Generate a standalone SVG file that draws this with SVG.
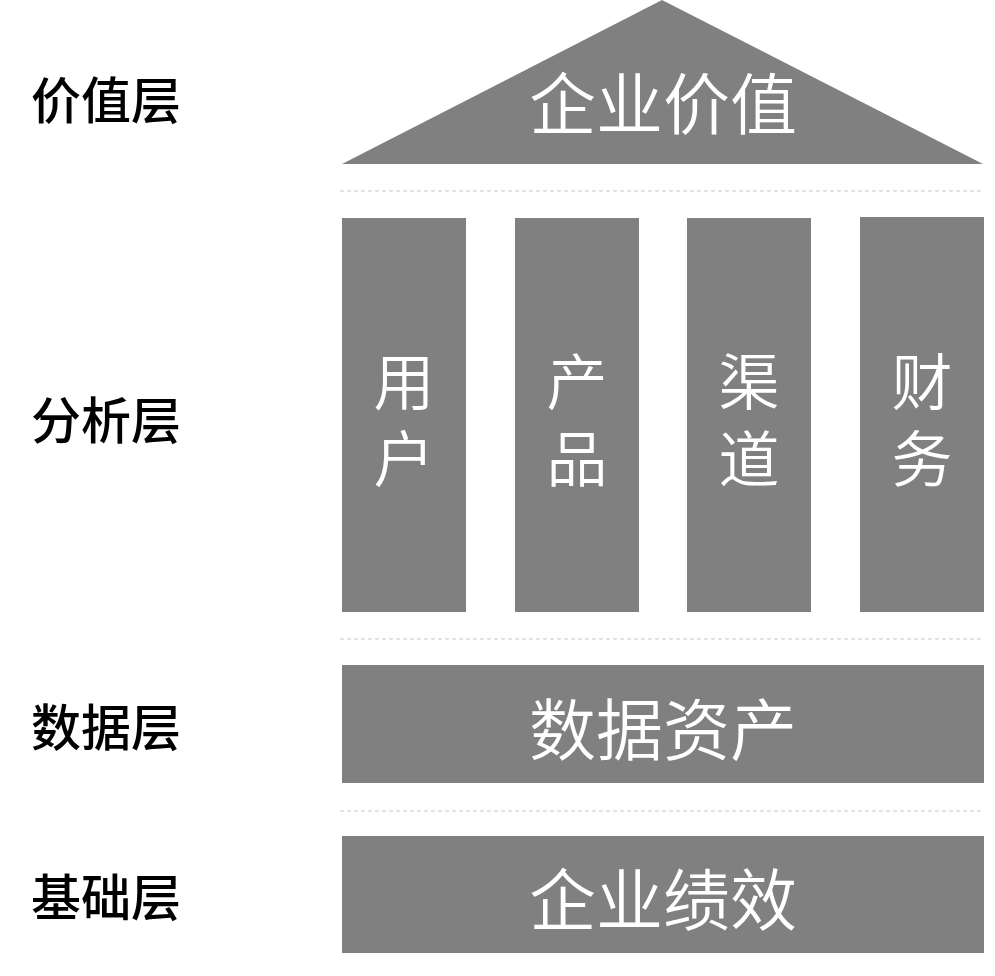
<svg xmlns="http://www.w3.org/2000/svg" width="995" height="976" viewBox="0 0 995 976">
<style>
.shape{fill:#808080}
.sep{stroke:#c8c8c8;stroke-width:1.2;stroke-dasharray:4 3;fill:none}
.lbl{font-family:"Noto Sans CJK SC","Noto Sans",sans-serif;font-size:50px;fill:#000;text-anchor:middle;font-weight:500}
.big{font-family:"Noto Sans CJK SC","Noto Sans",sans-serif;font-size:67px;fill:#fff;text-anchor:middle;font-weight:350}
.col{font-family:"Noto Sans CJK SC","Noto Sans",sans-serif;font-size:61px;fill:#fff;font-weight:350;writing-mode:vertical-rl;letter-spacing:16px}
</style>
<rect width="995" height="976" fill="#fff"/>
<g id="separators">
<line class="sep" x1="340" y1="191" x2="984" y2="191"/>
<line class="sep" x1="340" y1="639" x2="984" y2="639"/>
<line class="sep" x1="340" y1="811" x2="984" y2="811"/>
</g>
<g id="layer-labels">
<text class="lbl" x="106" y="119">价值层</text>
<text class="lbl" x="106" y="439">分析层</text>
<text class="lbl" x="106" y="746">数据层</text>
<text class="lbl" x="106" y="916">基础层</text>
</g>
<g id="roof">
<polygon class="shape" points="662,0 983,164 342,164"/>
<text class="big" x="663" y="129">企业价值</text>
</g>
<g id="pillar-user">
<rect class="shape" x="342" y="218" width="124" height="394"/>
<text class="col" x="404" y="351">用户</text>
</g>
<g id="pillar-product">
<rect class="shape" x="515" y="218" width="124" height="394"/>
<text class="col" x="577" y="351">产品</text>
</g>
<g id="pillar-channel">
<rect class="shape" x="687" y="218" width="124" height="394"/>
<text class="col" x="749" y="351">渠道</text>
</g>
<g id="pillar-finance">
<rect class="shape" x="860" y="217" width="124" height="395"/>
<text class="col" x="922" y="351">财务</text>
</g>
<g id="data-assets">
<rect class="shape" x="342" y="665" width="642" height="118"/>
<text class="big" x="663" y="755">数据资产</text>
</g>
<g id="foundation">
<rect class="shape" x="342" y="836" width="642" height="117"/>
<text class="big" x="663" y="925">企业绩效</text>
</g>
<g id="connectors"></g>
</svg>
